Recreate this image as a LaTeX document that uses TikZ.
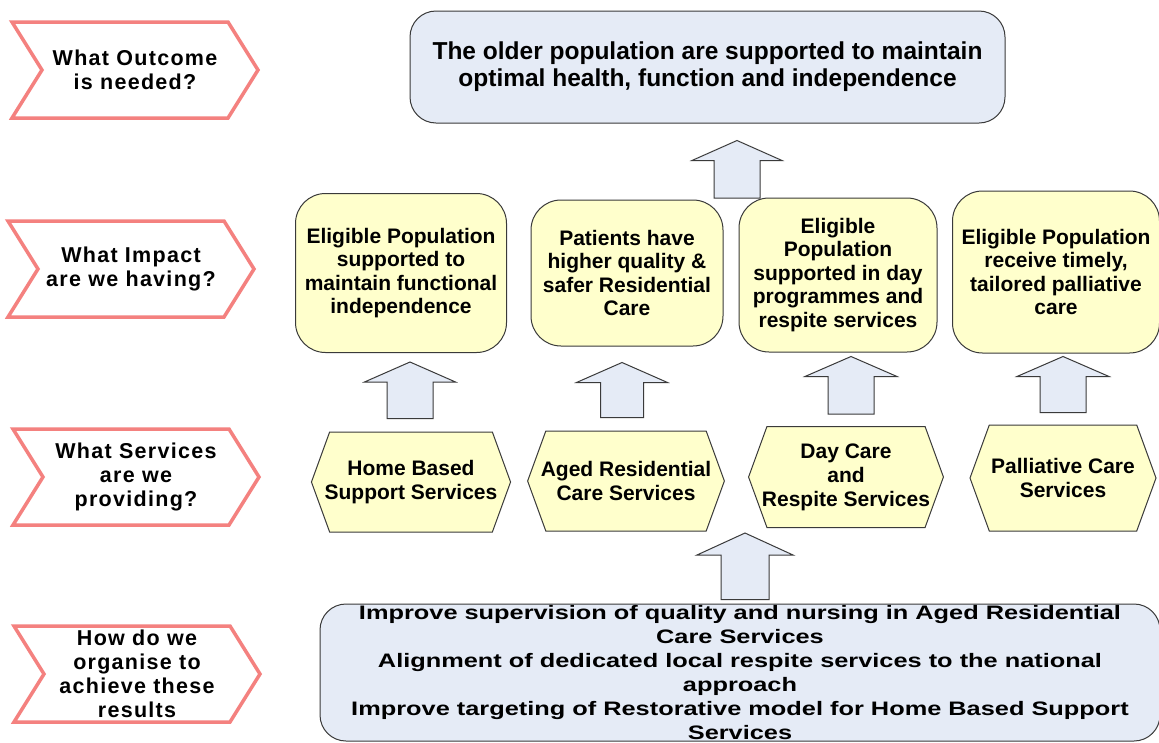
\documentclass[tikz,border=0pt]{standalone}
\usepackage{fontspec}
\setmainfont{Liberation Sans}
\newfontfamily\chevfont{Liberation Sans}[LetterSpace=6]
\newfontfamily\widefont{Liberation Sans}[FakeStretch=1.3]
\usetikzlibrary{shapes.symbols,calc}
\definecolor{chevred}{HTML}{F4817F}
\definecolor{paleblue}{HTML}{E5EBF6}
\definecolor{paleyellow}{HTML}{FFFFCC}
\definecolor{edgegray}{HTML}{3A3A3A}
\tikzstyle{question} = [signal,signal from=west,signal to=east,signal pointer angle=116,draw=chevred,line width=3.5,fill=white,minimum width=246,minimum height=96,inner sep=0,align=center,font=\chevfont\bfseries\fontsize{21.5}{24}\selectfont]
\tikzstyle{bluebox} = [rectangle,rounded corners=26,draw=edgegray,line width=1,fill=paleblue,inner sep=0,align=center]
\tikzstyle{impact} = [rectangle,rounded corners=30,draw=edgegray,line width=1,fill=paleyellow,inner sep=0,align=center,font=\bfseries\fontsize{21}{23.5}\selectfont]
\tikzstyle{service} = [signal,signal to=west and east,signal pointer angle=140,draw=edgegray,line width=1,fill=paleyellow,inner ysep=0,inner xsep=-5,align=center,font=\bfseries\fontsize{21}{24}\selectfont]
\tikzstyle{blockarrow} = [draw=edgegray,line width=1,fill=paleblue,line join=miter]
% block arrow: base, tip, half shaft, half head, head length
\newcommand{\blockup}[5]{%
  \draw[blockarrow] let \p1=#1, \p2=#2 in
    (\x1-#3pt,\y1) -- (\x1-#3pt,\y2-#5pt) -- (\x1-#4pt,\y2-#5pt) -- (\x1,\y2)
    -- (\x1+#4pt,\y2-#5pt) -- (\x1+#3pt,\y2-#5pt) -- (\x1+#3pt,\y1) -- cycle;}

\begin{document}
\begin{tikzpicture}[x=1pt,y=-1pt]
\useasboundingbox[fill=white] (0,0) rectangle (1159,742);
% left column
\node[question] (q1) at (135,70) {What Outcome\\is needed?};
\node[question] (q2) at (131,269) {What Impact\\are we having?};
\node[question] (q3) at (136,477) {What Services\\are we\\providing?};
\node[question] (q4) at (137,674) {How do we\\organise to\\achieve these\\results};
% outcome
\node[bluebox,minimum width=595,minimum height=112,font=\bfseries\fontsize{24.5}{27}\selectfont] (outcome) at (707.5,67)
  {The older population are supported to maintain\\optimal health, function and independence};
% impacts
\node[impact,minimum width=211,minimum height=159] (im1) at (401,273)
  {Eligible Population\\supported to\\maintain functional\\independence};
\node[impact,minimum width=192,minimum height=146] (im2) at (627,273)
  {Patients have\\higher quality \&\\safer Residential\\Care};
\node[impact,minimum width=198,minimum height=154] (im3) at (838,275)
  {Eligible\\Population\\supported in day\\programmes and\\respite services};
\node[impact,minimum width=207,minimum height=162] (im4) at (1056,272)
  {Eligible Population\\receive timely,\\tailored palliative\\care};
% services
\node[service,minimum width=192,minimum height=100] (hs1) at (411,482) {Home Based\\Support Services};
\node[service,minimum width=194,minimum height=100] (hs2) at (626,481) {Aged Residential\\Care Services};
\node[service,minimum width=194,minimum height=101] (hs3) at (846,477) {Day Care\\and\\Respite Services};
\node[service,minimum width=186,minimum height=106] (hs4) at (1063,478) {Palliative Care\\Services};
% organisation
\node[bluebox,minimum width=840,minimum height=137,font=\widefont\bfseries\fontsize{19.5}{24}\selectfont] (org) at (740,672.5)
  {Improve supervision of quality and nursing in Aged Residential\\Care Services\\Alignment of dedicated local respite services to the national\\approach\\Improve targeting of Restorative model for Home Based Support\\Services};
% arrows
\coordinate (topbase) at (737,198);
\coordinate (orgtip) at (745,533);
\blockup{(topbase)}{($(outcome.south)+(29.5,17)$)}{23}{45}{20}
\blockup{($(hs1.north)+(-1,-13)$)}{($(im1.south)+(9,9)$)}{23}{45.5}{20}
\blockup{($(hs2.north)+(-4,-13)$)}{($(im2.south)+(-5,16)$)}{21.5}{45.5}{20}
\blockup{($(hs3.north)+(5,-12)$)}{($(im3.south)+(13,4)$)}{23}{46}{20}
\blockup{($(hs4.north)+(0,-12)$)}{($(im4.south)+(7,3)$)}{23}{46}{20}
\blockup{($(org.north)+(5,-4)$)}{(orgtip)}{24}{48}{22}
\end{tikzpicture}
\end{document}
